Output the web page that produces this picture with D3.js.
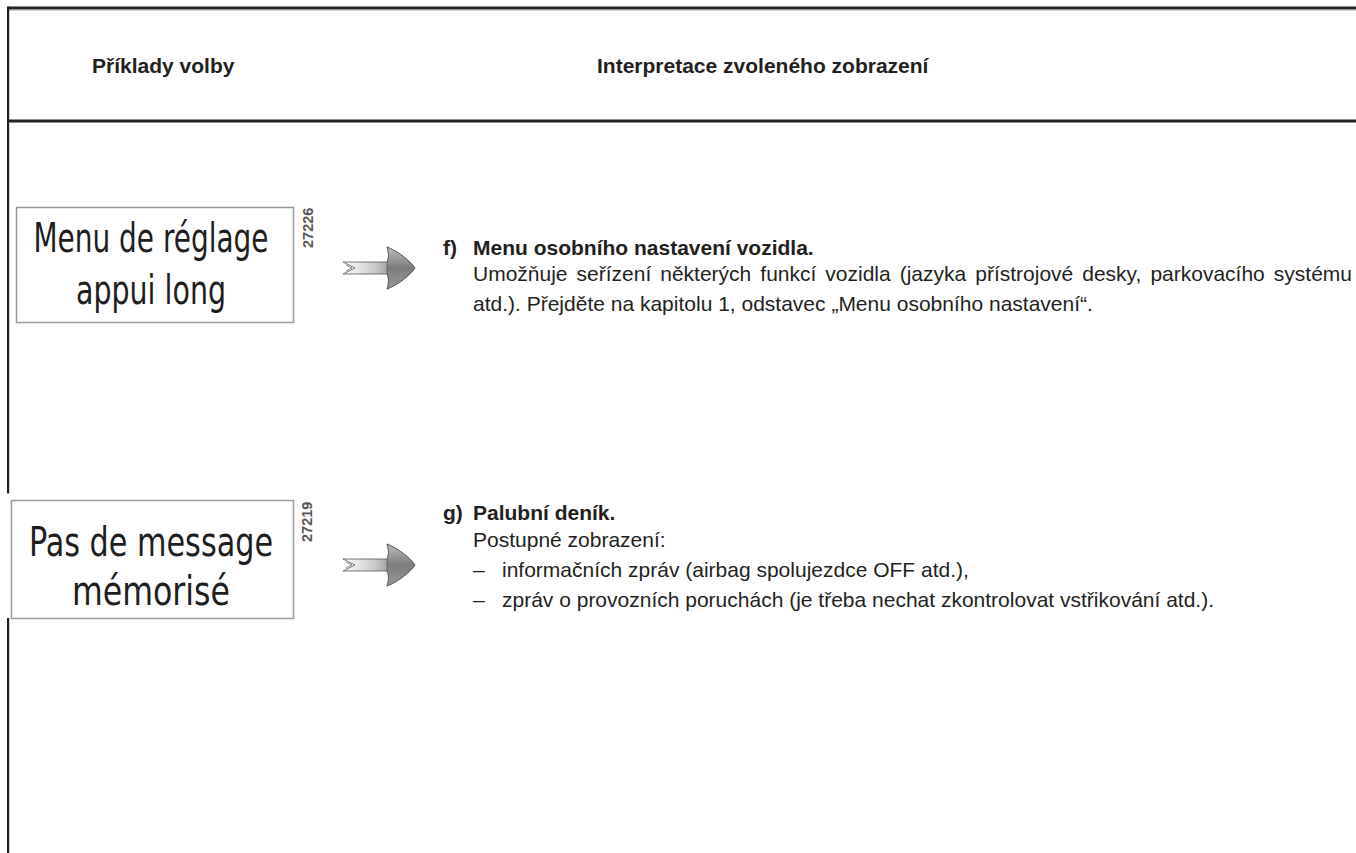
<!DOCTYPE html>
<html>
<head>
<meta charset="utf-8">
<script src="https://cdn.jsdelivr.net/npm/d3@7"></script>
<style>
  html, body { margin: 0; padding: 0; background: #fff; }
  svg { display: block; }
</style>
</head>
<body>
<script>
// ---------- data ----------
const headers = ["Příklady volby", "Interpretace zvoleného zobrazení"];
const displayLines = [["Menu de réglage", "appui long"], ["Pas de message", "mémorisé"]];
const displayCodes = ["27226", "27219"];
const itemLetters = ["f)", "g)"];
const itemTitles = ["Menu osobního nastavení vozidla.", "Palubní deník."];
const itemBodies = [
  [
    { text: "Umožňuje seřízení některých funkcí vozidla (jazyka přístrojové desky, parkovacího systému", dash: false, justify: true },
    { text: "atd.). Přejděte na kapitolu 1, odstavec „Menu osobního nastavení“.", dash: false, justify: false }
  ],
  [
    { text: "Postupné zobrazení:", dash: false, justify: false },
    { text: "informačních zpráv (airbag spolujezdce OFF atd.),", dash: true, justify: false },
    { text: "zpráv o provozních poruchách (je třeba nechat zkontrolovat vstřikování atd.).", dash: true, justify: false }
  ]
];

// ---------- layout ----------
const W = 1356, H = 853;
const svg = d3.select("body").append("svg").attr("width", W).attr("height", H);

const rowIndex = d3.range(displayLines.length);
const rowY = d3.scaleLinear().domain([0, 1]).range([207, 500]);   // top of each display box
const boxLayout = [
  { x: 16, w: 277, h: 115, b1: 45, b2: 97 },
  { x: 11, w: 282, h: 118, b1: 56, b2: 105 }
];
const textLayout = [
  { title: 48, lines: [74, 104] },
  { title: 20, lines: [47, 77, 107] }
];
const arrowLayout = [61, 65];  // arrow centre offset from box top

const ink = "#231f20";
const bodyFont = "'Liberation Sans', Arial, Helvetica, sans-serif";
const lcdFont = "'Liberation Sans Narrow', 'DejaVu Sans Condensed', 'Liberation Sans', sans-serif";

// gradients for arrows
const defs = svg.append("defs");
const grad = defs.append("linearGradient").attr("id", "arrowGrad")
  .attr("x1", "0%").attr("x2", "100%").attr("y1", "0%").attr("y2", "0%");
grad.append("stop").attr("offset", "0%").attr("stop-color", "#ffffff");
grad.append("stop").attr("offset", "45%").attr("stop-color", "#c8c8c8");
grad.append("stop").attr("offset", "75%").attr("stop-color", "#8a8a8a");
grad.append("stop").attr("offset", "100%").attr("stop-color", "#6a6a6a");
const gradV = defs.append("linearGradient").attr("id", "headGrad")
  .attr("x1", "0%").attr("x2", "0%").attr("y1", "0%").attr("y2", "100%");
gradV.append("stop").attr("offset", "0%").attr("stop-color", "#bdbdbd");
gradV.append("stop").attr("offset", "50%").attr("stop-color", "#7c7c7c");
gradV.append("stop").attr("offset", "100%").attr("stop-color", "#9a9a9a");

// ---------- frame lines ----------
const frame = svg.append("g");
frame.append("rect").attr("x", 8).attr("y", 6.5).attr("width", W - 8).attr("height", 3).attr("fill", "#222");
frame.append("rect").attr("x", 8).attr("y", 9.5).attr("width", W - 8).attr("height", 1).attr("fill", "#999");
frame.append("rect").attr("x", 8).attr("y", 119.5).attr("width", W - 8).attr("height", 3).attr("fill", "#222");
frame.append("rect").attr("x", 7).attr("y", 6.5).attr("width", 2.2).attr("height", 487).attr("fill", "#222");
frame.append("rect").attr("x", 7).attr("y", 618).attr("width", 2.2).attr("height", H - 618).attr("fill", "#222");

// ---------- header ----------
const headerX = [92, 597];
svg.append("g").selectAll("text").data(headers).join("text")
  .attr("x", (d, i) => headerX[i])
  .attr("y", 73)
  .attr("font-family", bodyFont)
  .attr("font-weight", "bold")
  .attr("font-size", 21)
  .attr("fill", ink)
  .text(d => d);

// ---------- rows ----------
const rows = svg.append("g").selectAll("g.row").data(rowIndex).join("g").attr("class", "row");

rows.append("rect")
  .attr("x", i => boxLayout[i].x + 0.5)
  .attr("y", i => rowY(i) + 0.5)
  .attr("width", i => boxLayout[i].w)
  .attr("height", i => boxLayout[i].h)
  .attr("fill", "#fff")
  .attr("stroke", "#9a9a9a")
  .attr("stroke-width", 1.5);

const lcdWidths = [[235, 150], [244, 158]];
rows.each(function (i) {
  const g = d3.select(this);
  const cx = 151;
  displayLines[i].forEach((line, j) => {
    g.append("text")
      .attr("x", cx)
      .attr("y", rowY(i) + (j === 0 ? boxLayout[i].b1 : boxLayout[i].b2))
      .attr("text-anchor", "middle")
      .attr("font-family", lcdFont)
      .attr("font-size", 41)
      .attr("fill", "#1e1e1e")
      .attr("textLength", lcdWidths[i][j])
      .attr("lengthAdjust", "spacingAndGlyphs")
      .text(line);
  });
  // code number, rotated
  g.append("text")
    .attr("transform", `translate(${i === 0 ? 313 : 312},${rowY(i) + (i === 0 ? 41 : 42)}) rotate(-90)`)
    .attr("font-family", bodyFont)
    .attr("font-size", 14.5)
    .attr("font-weight", "bold")
    .attr("fill", "#555")
    .text(displayCodes[i]);

  // arrow
  const ay = rowY(i) + arrowLayout[i];
  const ax = 343;
  const a = g.append("g").attr("transform", `translate(${ax},${ay})`);
  a.append("path")
    .attr("d", "M0,-6 L44,-6 C46,-10 46,-15 44,-21 C56,-16 66,-8 72,0 C66,8 56,16 44,21 C46,15 46,10 44,6 L0,6 L12,0 Z")
    .attr("fill", "url(#arrowGrad)")
    .attr("stroke", "#555")
    .attr("stroke-width", 0.8);
  a.append("path")
    .attr("d", "M44,-21 C56,-16 66,-8 72,0 C66,8 56,16 44,21 C46,15 46,10 44,6 L44,-6 C46,-10 46,-15 44,-21 Z")
    .attr("fill", "url(#headGrad)")
    .attr("stroke", "#555")
    .attr("stroke-width", 0.8);
  a.append("path")
    .attr("d", "M3,-3 L9,0 L3,3")
    .attr("fill", "none")
    .attr("stroke", "#666")
    .attr("stroke-width", 0.8);

  // text column
  const tx = 473, lx = 443;
  g.append("text").attr("x", lx).attr("y", rowY(i) + textLayout[i].title)
    .attr("font-family", bodyFont).attr("font-weight", "bold").attr("font-size", 21).attr("fill", ink)
    .text(itemLetters[i]);
  g.append("text").attr("x", tx).attr("y", rowY(i) + textLayout[i].title)
    .attr("font-family", bodyFont).attr("font-weight", "bold").attr("font-size", 21).attr("fill", ink)
    .text(itemTitles[i]);
  itemBodies[i].forEach((b, j) => {
    const y = rowY(i) + textLayout[i].lines[j];
    if (b.dash) {
      g.append("text").attr("x", tx).attr("y", y)
        .attr("font-family", bodyFont).attr("font-size", 21).attr("fill", ink).text("–");
    }
    const t = g.append("text").attr("x", b.dash ? 502 : tx).attr("y", y)
      .attr("font-family", bodyFont).attr("font-size", 21).attr("fill", ink)
      .text(b.text);
    if (b.justify) {
      const natural = t.node().getComputedTextLength();
      const spaces = (b.text.match(/ /g) || []).length;
      const target = 1352 - tx;
      if (spaces > 0 && natural < target) t.attr("word-spacing", (target - natural) / spaces);
    }
  });
});
</script>
</body>
</html>
